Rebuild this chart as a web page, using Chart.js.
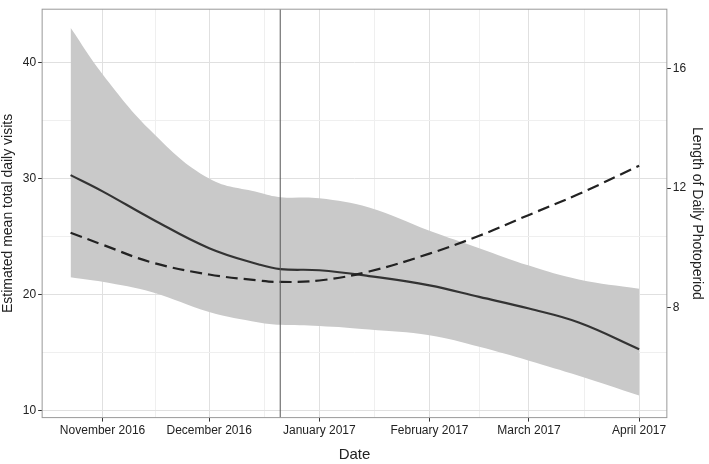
<!DOCTYPE html>
<html><head><meta charset="utf-8">
<script src="https://cdn.jsdelivr.net/npm/chart.js@4/dist/chart.umd.min.js"></script>
<style>html,body{margin:0;background:#fff}#w{width:709px;height:464px}</style>
</head><body><div id="w"><canvas id="c"></canvas></div>
<script>
// days since 1 Nov 2016
const days = [-9, 0, 14, 30, 44, 50, 61, 75, 92, 106, 120, 134, 151];
const visits = [30.3, 28.9, 26.5, 24.0, 22.6, 22.2, 22.1, 21.6, 20.8, 19.8, 18.8, 17.6, 15.3];
const upper = [43.0, 39.0, 34.0, 30.0, 28.8, 28.4, 28.3, 27.5, 25.5, 24.0, 22.5, 21.3, 20.5];
const lower = [21.5, 21.1, 20.2, 18.5, 17.6, 17.4, 17.3, 17.0, 16.5, 15.5, 14.3, 13.0, 11.3];
const photoperiod = [10.5, 10.1, 9.5, 9.1, 8.9, 8.85, 8.9, 9.2, 9.8, 10.4, 11.1, 11.8, 12.75];
const monthTicks = [0, 30, 61, 92, 120, 151];
const monthLabels = ['November 2016', 'December 2016', 'January 2017', 'February 2017', 'March 2017', 'April 2017'];
const solsticeDay = 50;

const pts = a => a.map((v, i) => ({x: days[i], y: v}));
const font = {family: 'Liberation Sans', size: 12};
const vline = {id: 'vline', afterDatasetsDraw(ch) {
  const x = ch.scales.x.getPixelForValue(solsticeDay), a = ch.chartArea, c = ch.ctx;
  c.save(); c.strokeStyle = '#555'; c.lineWidth = 1;
  c.beginPath(); c.moveTo(x, a.top); c.lineTo(x, a.bottom); c.stroke(); c.restore();
}};
const frame = {id: 'frame', afterDraw(ch) {
  const a = ch.chartArea, c = ch.ctx;
  c.save(); c.strokeStyle = '#999'; c.lineWidth = 1;
  c.strokeRect(a.left, a.top, a.right - a.left, a.bottom - a.top); c.restore();
}};
const isMajorX = c => monthTicks.includes(c.tick && c.tick.value);
const isMajorY = c => c.tick && c.tick.value % 10 === 0;
new Chart(document.getElementById('c'), {
  type: 'line',
  data: {datasets: [
    {data: pts(upper), borderWidth: 0, pointRadius: 0, fill: false, yAxisID: 'y', tension: 0.4, order: 5},
    {data: pts(lower), borderWidth: 0, pointRadius: 0, fill: '-1', backgroundColor: '#c9c9c9', yAxisID: 'y', tension: 0.4, order: 4},
    {data: pts(visits), borderColor: '#333', borderWidth: 2.2, pointRadius: 0, yAxisID: 'y', tension: 0.4, order: 1},
    {data: pts(photoperiod), borderColor: '#222', borderWidth: 2.2, borderDash: [12, 6], pointRadius: 0, yAxisID: 'y2', tension: 0.4, order: 0}
  ]},
  options: {
    responsive: true, maintainAspectRatio: false, animation: false,
    layout: {padding: {top: 2, right: 0, left: 0, bottom: 0}},
    plugins: {legend: {display: false}, tooltip: {enabled: false}},
    scales: {
      x: {type: 'linear', min: -17, max: 158.8,
        afterBuildTicks: s => { const t = []; monthTicks.forEach((v, i) => { t.push({value: v}); if (i < monthTicks.length - 1) t.push({value: (v + monthTicks[i + 1]) / 2}); }); s.ticks = t; },
        ticks: {autoSkip: false, maxRotation: 0, color: '#222', font, padding: 2, callback: v => { const i = monthTicks.indexOf(v); return i >= 0 ? monthLabels[i] : ''; }},
        grid: {color: c => isMajorX(c) ? '#e0e0e0' : '#efefef', tickLength: 4, tickColor: c => isMajorX(c) ? '#333' : 'rgba(0,0,0,0)'},
        border: {display: false},
        title: {display: true, text: 'Date', color: '#222', font: {family: 'Liberation Sans', size: 15}, padding: {top: 6, bottom: 0}}
      },
      y: {position: 'left', min: 9.4, max: 44.6,
        afterBuildTicks: s => { s.ticks = [10, 15, 20, 25, 30, 35, 40].map(v => ({value: v})); },
        ticks: {color: '#222', font, padding: 2, callback: v => v % 10 === 0 ? v : ''},
        grid: {color: c => isMajorY(c) ? '#e0e0e0' : '#efefef', tickLength: 4, tickColor: c => isMajorY(c) ? '#333' : 'rgba(0,0,0,0)'},
        border: {display: false},
        title: {display: true, text: 'Estimated mean total daily visits', color: '#222', font: {family: 'Liberation Sans', size: 14}, padding: {top: 0, bottom: 4}}
      },
      y2: {position: 'right', min: 4.3, max: 18.0,
        afterBuildTicks: s => { s.ticks = [8, 12, 16].map(v => ({value: v})); },
        ticks: {color: '#222', font, padding: 2},
        grid: {drawOnChartArea: false, tickLength: 4, tickColor: '#333'},
        border: {display: false},
        title: {display: true, text: 'Length of Daily Photoperiod', color: '#222', font: {family: 'Liberation Sans', size: 14}, padding: {top: 4, bottom: 0}}
      }
    }
  },
  plugins: [vline, frame]
});
</script></body></html>
